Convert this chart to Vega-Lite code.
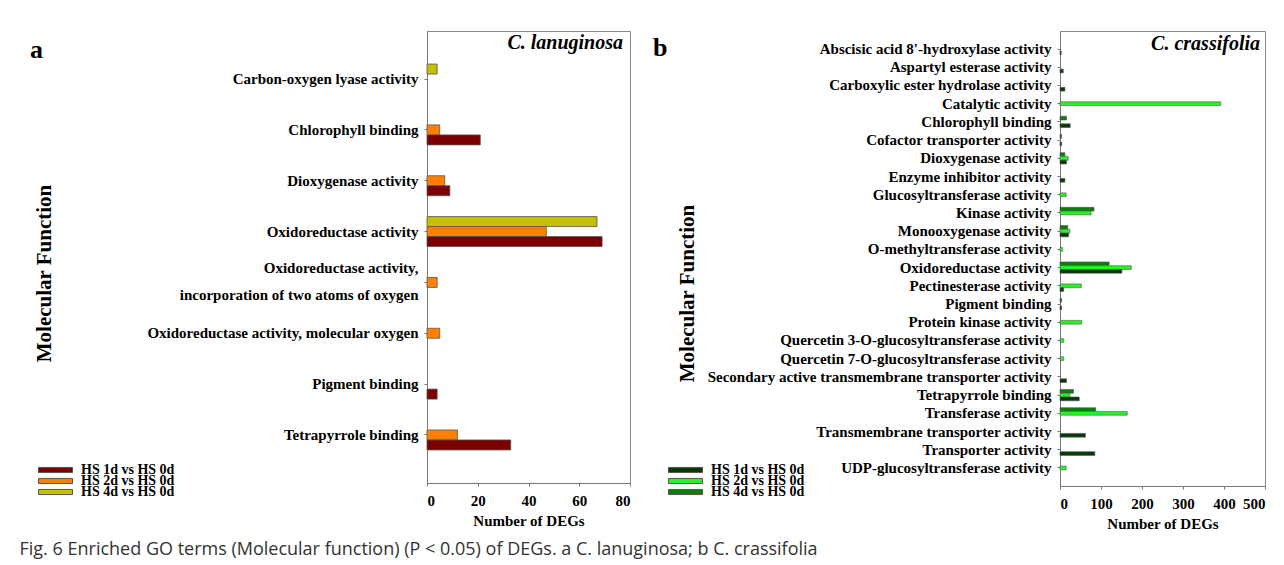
{
  "$schema": "https://vega.github.io/schema/vega-lite/v6.json",
  "padding": {"left": 19, "top": 30, "right": 5, "bottom": 5},
  "background": "white",
  "title": {"text": "Fig. 6  Enriched GO terms (Molecular function) (P < 0.05) of DEGs. a C. lanuginosa; b C. crassifolia", "orient": "bottom", "anchor": "start", "frame": "bounds", "font": "Open Sans", "fontSize": 18, "fontWeight": "normal", "color": "#333", "offset": 9, "dx": -10},
  "config": {
    "view": {"stroke": "#888", "strokeWidth": 1},
    "axis": {"labelFont": "Liberation Serif", "labelFontWeight": "bold", "labelFontSize": 15, "labelColor": "black", "titleFont": "Liberation Serif", "titleFontWeight": "bold", "titleColor": "black", "domainColor": "#777", "tickColor": "#777", "tickSize": 3, "grid": false},
    "legend": {"labelFont": "Liberation Serif", "labelFontWeight": "bold", "labelFontSize": 14, "labelColor": "black", "symbolType": "M-1,-0.15H1V0.15H-1Z", "symbolSize": 1156, "symbolStrokeColor": "#555", "symbolStrokeWidth": 1, "clipHeight": 8, "labelOffset": 8, "title": null},
    "concat": {"spacing": 21}
  },
  "datasets": {
    "a": [
      {"term": "Carbon-oxygen lyase activity", "series": "HS 4d vs HS 0d", "n": 4},
      {"term": "Chlorophyll binding", "series": "HS 2d vs HS 0d", "n": 5},
      {"term": "Chlorophyll binding", "series": "HS 1d vs HS 0d", "n": 21},
      {"term": "Dioxygenase activity", "series": "HS 2d vs HS 0d", "n": 7},
      {"term": "Dioxygenase activity", "series": "HS 1d vs HS 0d", "n": 9},
      {"term": "Oxidoreductase activity", "series": "HS 4d vs HS 0d", "n": 67},
      {"term": "Oxidoreductase activity", "series": "HS 2d vs HS 0d", "n": 47},
      {"term": "Oxidoreductase activity", "series": "HS 1d vs HS 0d", "n": 69},
      {"term": "Oxidoreductase activity, incorporation of two atoms of oxygen", "series": "HS 2d vs HS 0d", "n": 4},
      {"term": "Oxidoreductase activity, molecular oxygen", "series": "HS 2d vs HS 0d", "n": 5},
      {"term": "Pigment binding", "series": "HS 1d vs HS 0d", "n": 4},
      {"term": "Tetrapyrrole binding", "series": "HS 2d vs HS 0d", "n": 12},
      {"term": "Tetrapyrrole binding", "series": "HS 1d vs HS 0d", "n": 33}
    ],
    "b": [
      {"term": "Abscisic acid 8'-hydroxylase activity", "series": "HS 1d vs HS 0d", "n": 3},
      {"term": "Aspartyl esterase activity", "series": "HS 1d vs HS 0d", "n": 8},
      {"term": "Carboxylic ester hydrolase activity", "series": "HS 1d vs HS 0d", "n": 12},
      {"term": "Catalytic activity", "series": "HS 2d vs HS 0d", "n": 392},
      {"term": "Chlorophyll binding", "series": "HS 4d vs HS 0d", "n": 16},
      {"term": "Chlorophyll binding", "series": "HS 1d vs HS 0d", "n": 25},
      {"term": "Cofactor transporter activity", "series": "HS 4d vs HS 0d", "n": 4},
      {"term": "Cofactor transporter activity", "series": "HS 1d vs HS 0d", "n": 4},
      {"term": "Dioxygenase activity", "series": "HS 4d vs HS 0d", "n": 12},
      {"term": "Dioxygenase activity", "series": "HS 2d vs HS 0d", "n": 20},
      {"term": "Dioxygenase activity", "series": "HS 1d vs HS 0d", "n": 16},
      {"term": "Enzyme inhibitor activity", "series": "HS 1d vs HS 0d", "n": 12},
      {"term": "Glucosyltransferase activity", "series": "HS 2d vs HS 0d", "n": 15},
      {"term": "Kinase activity", "series": "HS 4d vs HS 0d", "n": 83},
      {"term": "Kinase activity", "series": "HS 2d vs HS 0d", "n": 76},
      {"term": "Monooxygenase activity", "series": "HS 4d vs HS 0d", "n": 19},
      {"term": "Monooxygenase activity", "series": "HS 2d vs HS 0d", "n": 24},
      {"term": "Monooxygenase activity", "series": "HS 1d vs HS 0d", "n": 21},
      {"term": "O-methyltransferase activity", "series": "HS 2d vs HS 0d", "n": 6},
      {"term": "Oxidoreductase activity", "series": "HS 4d vs HS 0d", "n": 120},
      {"term": "Oxidoreductase activity", "series": "HS 2d vs HS 0d", "n": 174},
      {"term": "Oxidoreductase activity", "series": "HS 1d vs HS 0d", "n": 151},
      {"term": "Pectinesterase activity", "series": "HS 2d vs HS 0d", "n": 52},
      {"term": "Pectinesterase activity", "series": "HS 1d vs HS 0d", "n": 9},
      {"term": "Pigment binding", "series": "HS 4d vs HS 0d", "n": 4},
      {"term": "Pigment binding", "series": "HS 1d vs HS 0d", "n": 4},
      {"term": "Protein kinase activity", "series": "HS 2d vs HS 0d", "n": 53},
      {"term": "Quercetin 3-O-glucosyltransferase activity", "series": "HS 2d vs HS 0d", "n": 9},
      {"term": "Quercetin 7-O-glucosyltransferase activity", "series": "HS 2d vs HS 0d", "n": 9},
      {"term": "Secondary active transmembrane transporter activity", "series": "HS 1d vs HS 0d", "n": 16},
      {"term": "Tetrapyrrole binding", "series": "HS 4d vs HS 0d", "n": 33},
      {"term": "Tetrapyrrole binding", "series": "HS 2d vs HS 0d", "n": 24},
      {"term": "Tetrapyrrole binding", "series": "HS 1d vs HS 0d", "n": 47},
      {"term": "Transferase activity", "series": "HS 4d vs HS 0d", "n": 87},
      {"term": "Transferase activity", "series": "HS 2d vs HS 0d", "n": 164},
      {"term": "Transmembrane transporter activity", "series": "HS 1d vs HS 0d", "n": 62},
      {"term": "Transporter activity", "series": "HS 1d vs HS 0d", "n": 85},
      {"term": "UDP-glucosyltransferase activity", "series": "HS 2d vs HS 0d", "n": 15}
    ]
  },
  "hconcat": [
    {
      "title": {"text": "a", "orient": "left", "anchor": "end", "frame": "group", "angle": 0, "align": "right", "baseline": "top", "font": "Liberation Serif", "fontSize": 26, "fontWeight": "bold", "color": "black", "offset": 0, "dy": 6, "dx": 23},
      "width": 203,
      "height": 452,
      "layer": [
        {
          "data": {"name": "a"},
          "mark": {"type": "bar", "stroke": "#555", "strokeWidth": 0.8},
          "encoding": {
            "y": {"field": "term", "type": "nominal", "sort": null,
              "scale": {"paddingInner": 0.41, "paddingOuter": 0.65},
              "axis": {"title": "Molecular Function", "titleFontSize": 21, "titleX": -373, "titleY": 242, "labelLimit": 0, "labelPadding": 6, "labelLineHeight": 27,
                "labelOffset": {"condition": {"test": "datum.value == 'Oxidoreductase activity, incorporation of two atoms of oxygen'", "value": -14}, "value": 0},
                "labelExpr": "datum.value == 'Oxidoreductase activity, incorporation of two atoms of oxygen' ? ['Oxidoreductase activity,', 'incorporation of two atoms of oxygen'] : datum.label"}},
            "yOffset": {"field": "series", "type": "nominal", "sort": ["HS 4d vs HS 0d", "HS 2d vs HS 0d", "HS 1d vs HS 0d"], "scale": {"paddingInner": 0, "paddingOuter": 0}},
            "x": {"field": "n", "type": "quantitative", "scale": {"domain": [0, 80]},
              "axis": {"title": "Number of DEGs", "titleFontSize": 15, "values": [0, 20, 40, 60, 80], "labelPadding": 7, "titlePadding": 5}},
            "color": {"field": "series", "type": "nominal",
              "scale": {"domain": ["HS 1d vs HS 0d", "HS 2d vs HS 0d", "HS 4d vs HS 0d"], "range": ["#7a0000", "#ff8000", "#c2c000"]},
              "legend": {"orient": "none", "legendX": -389, "legendY": 435, "rowPadding": -4}}
          }
        },
        {
          "data": {"values": [{"species": "C. lanuginosa"}]},
          "mark": {"type": "text", "align": "right", "baseline": "alphabetic", "dx": -7, "dy": -30, "font": "Liberation Serif", "fontSize": 20, "fontStyle": "italic", "fontWeight": "bold", "color": "black"},
          "encoding": {
            "x": {"datum": 80},
            "y": {"datum": "Carbon-oxygen lyase activity"},
            "text": {"field": "species"}
          }
        }
      ]
    },
    {
      "title": {"text": "b", "orient": "left", "anchor": "end", "frame": "group", "angle": 0, "align": "right", "baseline": "top", "font": "Liberation Serif", "fontSize": 26, "fontWeight": "bold", "color": "black", "offset": 0, "dy": 4, "dx": 14},
      "width": 205,
      "height": 455,
      "layer": [
        {
          "data": {"name": "b"},
          "mark": {"type": "bar", "stroke": "#555", "strokeWidth": 0.6},
          "encoding": {
            "y": {"field": "term", "type": "nominal", "sort": null,
              "scale": {"paddingInner": 0.38, "paddingOuter": 0.68},
              "axis": {"title": "Molecular Function", "titleFontSize": 21, "titleX": -363, "titleY": 262, "labelLimit": 0, "labelPadding": 6}},
            "yOffset": {"field": "series", "type": "nominal", "sort": ["HS 4d vs HS 0d", "HS 2d vs HS 0d", "HS 1d vs HS 0d"], "scale": {"paddingInner": 0, "paddingOuter": 0}},
            "x": {"field": "n", "type": "quantitative", "scale": {"domain": [0, 500]},
              "axis": {"title": "Number of DEGs", "titleFontSize": 15, "values": [0, 100, 200, 300, 400, 500], "labelPadding": 7, "titlePadding": 5}},
            "color": {"field": "series", "type": "nominal",
              "scale": {"domain": ["HS 1d vs HS 0d", "HS 2d vs HS 0d", "HS 4d vs HS 0d"], "range": ["#083a08", "#22f522", "#0b7d0b"]},
              "legend": {"orient": "none", "legendX": -392, "legendY": 435, "rowPadding": -4}}
          }
        },
        {
          "data": {"values": [{"species": "C. crassifolia"}]},
          "mark": {"type": "text", "align": "right", "baseline": "alphabetic", "dx": -5, "dy": 1, "font": "Liberation Serif", "fontSize": 20, "fontStyle": "italic", "fontWeight": "bold", "color": "black"},
          "encoding": {
            "x": {"datum": 500},
            "y": {"datum": "Abscisic acid 8'-hydroxylase activity"},
            "text": {"field": "species"}
          }
        }
      ]
    }
  ],
  "resolve": {"scale": {"color": "independent", "x": "independent", "y": "independent", "yOffset": "independent"}, "legend": {"color": "independent"}}
}
